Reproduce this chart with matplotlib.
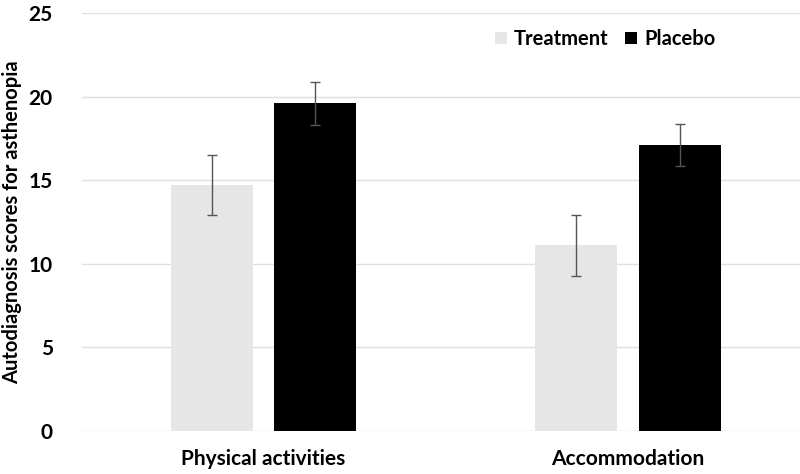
import matplotlib
matplotlib.use("Agg")
import matplotlib.pyplot as plt
import numpy as np

categories = ["Physical activities", "Accommodation"]
series = ["Treatment", "Placebo"]
treatment = [14.7, 11.1]
treatment_err = [1.8, 1.8]
placebo = [19.6, 17.1]
placebo_err = [1.3, 1.27]
yticks = [0, 5, 10, 15, 20, 25]

plt.rcParams['font.family'] = ['Lato', 'DejaVu Sans']
plt.rcParams['font.weight'] = 'bold'

fig = plt.figure(figsize=(8, 4.74), dpi=100)
ax = fig.add_axes([82 / 800, 43 / 474, 1 - 82 / 800, 418 / 474])

x = np.arange(len(categories))
w = 0.225
off = 0.142
err_kw = dict(ecolor='#555555', elinewidth=1.0, capsize=3.5, capthick=1.0)
ax.bar(x - off, treatment, w, yerr=treatment_err, color='#e6e6e6',
       label=series[0], error_kw=err_kw, zorder=2)
ax.bar(x + off, placebo, w, yerr=placebo_err, color='black',
       label=series[1], error_kw=err_kw, zorder=2)

ax.set_xlim(-0.498, 1.472)
ax.set_ylim(0, 25)
ax.set_yticks(yticks)
ax.set_xticks(x)
ax.set_xticklabels(categories, fontsize=15, fontweight='bold')
ax.tick_params(axis='y', labelsize=15, length=0, pad=21)
ax.tick_params(axis='x', length=0, pad=13)
ax.grid(axis='y', color='#e0e0e0', linewidth=1.0, zorder=0)
ax.set_axisbelow(True)
for s in ax.spines.values():
    s.set_visible(False)

ax.set_ylabel("Autodiagnosis scores for asthenopia", fontsize=14.5,
              fontweight='bold', labelpad=5)

ax.legend(loc='upper left', bbox_to_anchor=(487 / 800, 1 - 21 / 474),
          bbox_transform=fig.transFigure, ncol=2, frameon=False,
          fontsize=14.5, handlelength=0.6, handleheight=0.6,
          handletextpad=0.35, columnspacing=0.8, borderaxespad=0)

fig.savefig("out.png", dpi=100)
